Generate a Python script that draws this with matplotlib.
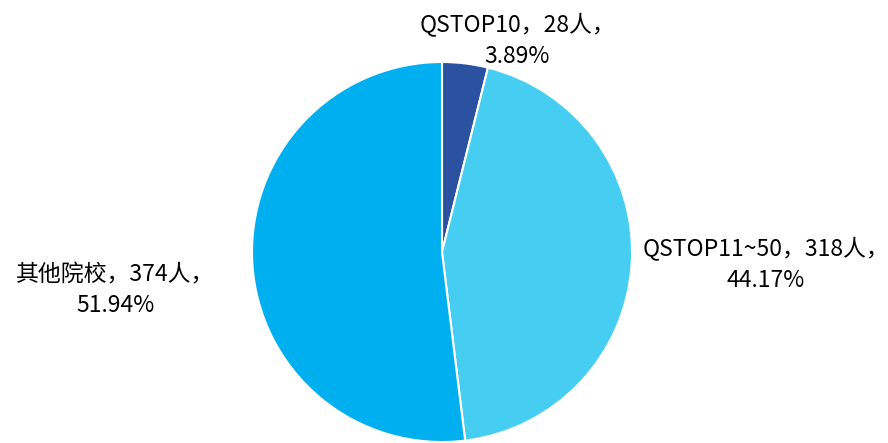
import matplotlib.pyplot as plt

# data
names = ['QSTOP10', 'QSTOP11~50', '其他院校']
counts = [28, 318, 374]
pcts = ['3.89%', '44.17%', '51.94%']
colors = ['#2A52A0', '#46CEF2', '#00AFEF']

plt.rcParams['font.family'] = ['Noto Sans CJK SC', 'DejaVu Sans']

fig = plt.figure(figsize=(8.88, 4.43), dpi=100)
ax = fig.add_axes([0, 0, 1, 1])

ax.pie(counts, colors=colors, startangle=90, counterclock=False,
       center=(442, 191), radius=190, frame=True,
       wedgeprops=dict(edgecolor='white', linewidth=1.5))
ax.set_xlim(0, 888)
ax.set_ylim(0, 443)
ax.set_aspect('equal')
ax.axis('off')

label_pos = [(517, 403), (766, 179), (115, 153)]
for name, n, p, (x, y) in zip(names, counts, pcts, label_pos):
    ax.text(x, y, f'{name}，{n}人，\n{p}', ha='center', va='center',
            fontsize=16.5, linespacing=1.45, color='black')

fig.savefig('out.png', dpi=100)
